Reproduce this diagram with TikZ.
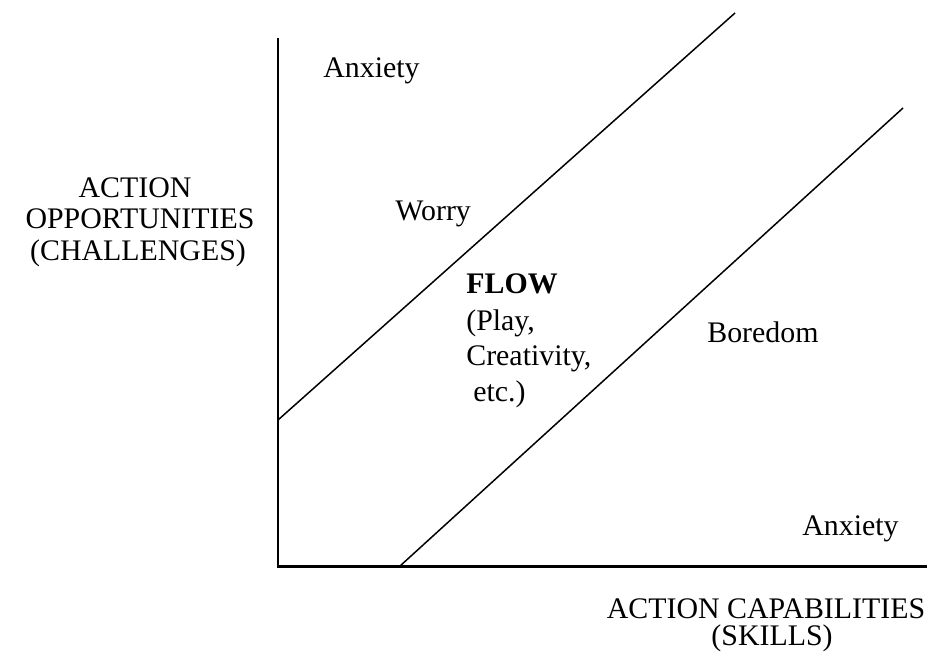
\documentclass[tikz,border=0pt]{standalone}
\usepackage{fontspec}
\setmainfont{Liberation Serif}

\tikzset{
  lbl/.style={inner sep=0pt,font=\fontsize{17}{17}\selectfont},
  axisline/.style={line width=1.7pt,line join=miter},
  bandline/.style={line width=0.85pt}
}

\begin{document}
\begin{tikzpicture}[x=0.02cm,y=-0.02cm]

	\useasboundingbox (0,0) rectangle (949,653);

	% axes
	\coordinate (ytop) at (278,38);
	\coordinate (origin) at (278,566);
	\coordinate (xend) at (927,566);
	\draw[axisline] (ytop) -- (origin) -- (xend);

	% upper edge of the flow channel
	\coordinate (up0) at (278,420);
	\coordinate (up1) at (735,13);
	\draw[bandline] (up0) -- (up1);

	% lower edge of the flow channel
	\coordinate (lo0) at (400,566);
	\coordinate (lo1) at (903,108);
	\draw[bandline] (lo0) -- (lo1);

	% zones
	\node[lbl,anchor=base west] (anxtop) at (323,77) {Anxiety};
	\node[lbl,anchor=base west] (worry) at (395,220) {Worry};
	\node[lbl,anchor=base west] (boredom) at (707,342) {Boredom};
	\node[lbl,anchor=base west] (anxbot) at (802,535) {Anxiety};

	% flow
	\node[lbl,anchor=base west,font=\fontsize{17}{17}\selectfont\bfseries] (flow) at (466,293) {FLOW};
	\node[lbl,anchor=base west] (play) at (466,330) {(Play,};
	\node[lbl,anchor=base west] (creat) at (466,365) {Creativity,};
	\node[lbl,anchor=base west] (etc) at (473,401) {etc.)};

	% y axis label
	\node[lbl,anchor=base] (yl1) at (135,197) {ACTION};
	\node[lbl,anchor=base] (yl2) at (140,228) {OPPORTUNITIES};
	\node[lbl,anchor=base] (yl3) at (138,260) {(CHALLENGES)};

	% x axis label
	\node[lbl,anchor=base] (xl1) at (766,618) {ACTION CAPABILITIES};
	\node[lbl,anchor=base] (xl2) at (772,645) {(SKILLS)};

\end{tikzpicture}
\end{document}
